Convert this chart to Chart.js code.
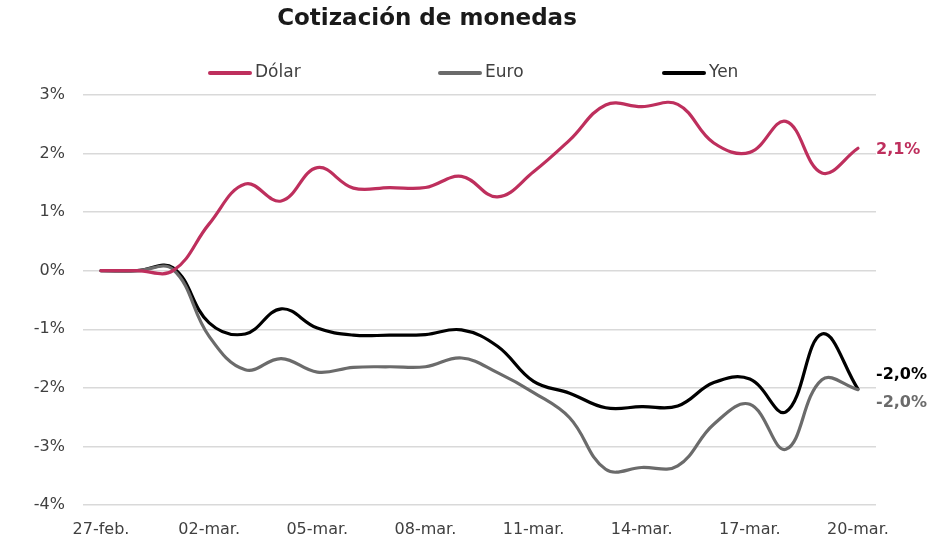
<!DOCTYPE html>
<html>
<head>
<meta charset="utf-8">
<script src="https://cdn.jsdelivr.net/npm/chart.js@4"></script>
<style>
  html, body { margin: 0; padding: 0; background: #fff; }
  #wrap { width: 943px; height: 548px; }
</style>
</head>
<body>
<div id="wrap"><canvas id="monedas"></canvas></div>
<script>
// Daily series, % change vs 27-feb
const labels = ['27-feb.', '28-feb.', '01-mar.', '02-mar.', '03-mar.', '04-mar.', '05-mar.', '06-mar.',
    '07-mar.', '08-mar.', '09-mar.', '10-mar.', '11-mar.', '12-mar.', '13-mar.', '14-mar.',
    '15-mar.', '16-mar.', '17-mar.', '18-mar.', '19-mar.', '20-mar.'];
const dolar = [0, 0, 0, 0.80, 1.48, 1.19, 1.76, 1.41, 1.42, 1.42, 1.61, 1.26, 1.69, 2.23, 2.83, 2.80,
    2.84, 2.18, 2.02, 2.55, 1.67, 2.09];
const euro = [0, 0, 0.02, -1.12, -1.69, -1.50, -1.73, -1.65, -1.64, -1.64, -1.49, -1.74, -2.08, -2.51,
    -3.39, -3.36, -3.33, -2.62, -2.28, -3.05, -1.86, -2.03];
const yen = [0, 0, 0.05, -0.89, -1.08, -0.65, -0.98, -1.10, -1.10, -1.09, -1.01, -1.29, -1.89, -2.09,
    -2.34, -2.32, -2.31, -1.91, -1.85, -2.41, -1.08, -2.02];
const yTicks = [-4, -3, -2, -1, 0, 1, 2, 3];

const FONT = 'DejaVu Sans';
const TEXT = '#404040';

// Title, legend and end-of-line labels
const decorations = {
    id: 'decorations',
    afterDraw(chart) {
        const ctx = chart.ctx;
        ctx.save();
        ctx.textBaseline = 'middle';

        ctx.fillStyle = '#1a1a1a';
        ctx.font = 'bold 23px ' + FONT;
        ctx.textAlign = 'center';
        ctx.fillText('Cotización de monedas', 427, 19);

        const legendX = [210, 440, 664];
        ctx.font = '17px ' + FONT;
        ctx.textAlign = 'left';
        chart.data.datasets.forEach((ds, i) => {
            const x = legendX[i];
            ctx.strokeStyle = ds.borderColor;
            ctx.lineWidth = 4;
            ctx.lineCap = 'round';
            ctx.beginPath();
            ctx.moveTo(x, 73);
            ctx.lineTo(x + 40, 73);
            ctx.stroke();
            ctx.fillStyle = TEXT;
            ctx.fillText(ds.label, x + 45, 73);
        });

        const offsets = [2, 13, -14];
        ctx.font = 'bold 16px ' + FONT;
        chart.data.datasets.forEach((ds, i) => {
            const meta = chart.getDatasetMeta(i);
            const pt = meta.data[meta.data.length - 1];
            const v = ds.data[ds.data.length - 1];
            const txt = v.toFixed(1).replace('.', ',') + '%';
            ctx.fillStyle = ds.borderColor;
            ctx.fillText(txt, chart.chartArea.right, pt.y + offsets[i]);
        });
        ctx.restore();
    }
};

document.addEventListener('DOMContentLoaded', () => {
    const ctx = document.getElementById('monedas').getContext('2d');
    new Chart(ctx, {
        type: 'line',
        data: {
            labels: labels,
            datasets: [
                { label: 'Dólar', data: dolar, borderColor: '#BE2F5D' },
                { label: 'Euro', data: euro, borderColor: '#6B6B6B' },
                { label: 'Yen', data: yen, borderColor: '#000000' }
            ]
        },
        options: {
            responsive: true,
            maintainAspectRatio: false,
            animation: false,
            layout: { padding: { top: 95, right: 67, left: 0, bottom: 0 } },
            elements: {
                line: { borderWidth: 3.2, tension: 0.4, borderCapStyle: 'round' },
                point: { radius: 0 }
            },
            plugins: {
                legend: { display: false },
                title: { display: false },
                tooltip: { enabled: false }
            },
            scales: {
                x: {
                    offset: true,
                    grid: { display: false, drawTicks: false },
                    border: { display: false },
                    afterFit: scale => { scale.height = 43; },
                    ticks: {
                        autoSkip: false,
                        maxRotation: 0,
                        padding: 15,
                        color: TEXT,
                        font: { family: FONT, size: 16 },
                        callback: (v, i) => (i % 3 === 0 ? labels[i] : '')
                    }
                },
                y: {
                    min: yTicks[0],
                    max: yTicks[yTicks.length - 1],
                    afterFit: scale => { scale.width = 83; },
                    afterBuildTicks: scale => { scale.ticks = yTicks.map(v => ({ value: v })); },
                    grid: { color: '#D9D9D9', lineWidth: 1.5, drawTicks: false },
                    border: { display: false },
                    ticks: {
                        padding: 18,
                        color: TEXT,
                        font: { family: FONT, size: 16 },
                        callback: v => v + '%'
                    }
                }
            }
        },
        plugins: [decorations]
    });
});
</script>
</body>
</html>
